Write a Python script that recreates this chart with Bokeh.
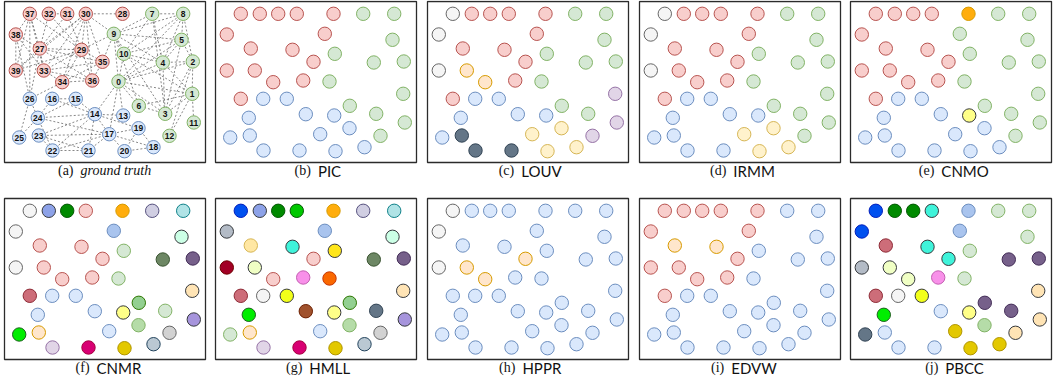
from bokeh.plotting import figure
from bokeh.models import Range1d
from bokeh.core.properties import value
from bokeh.embed import file_html
from bokeh.resources import INLINE

# ---------------- data ----------------
node_ids = list(range(40))
# node positions inside a panel (px from panel's top-left corner)
node_x = [114.0, 187.7, 188.3, 160.7, 158.3, 177.0, 134.3, 147.7, 178.7, 109.3,
          119.3, 189.3, 165.0, 118.7, 90.3, 71.3, 47.7, 104.7, 149.0, 134.0,
          120.0, 84.0, 48.0, 34.3, 33.3, 14.7, 25.3, 35.3, 118.0, 77.0,
          81.3, 62.7, 44.3, 39.3, 57.7, 98.0, 87.7, 25.3, 11.3, 11.3]
node_y = [80.0, 92.3, 60.0, 112.3, 61.0, 38.3, 104.3, 12.3, 12.3, 32.3,
          52.3, 121.0, 134.3, 114.0, 112.7, 97.3, 97.3, 132.7, 145.7, 126.7,
          149.7, 149.0, 149.0, 134.0, 116.3, 136.0, 97.3, 47.0, 12.3, 48.3,
          12.3, 12.3, 12.3, 69.0, 80.7, 60.3, 79.0, 12.3, 33.0, 69.0]

edges = [(37, 38), (37, 39), (37, 26), (37, 27), (37, 29), (37, 33), (32, 31), (32, 27), (32, 29),
         (31, 27), (31, 29), (30, 28), (30, 27), (30, 29), (30, 33), (30, 34), (30, 35), (30, 36),
         (30, 39), (30, 9), (38, 39), (38, 26), (38, 27), (38, 33), (27, 29), (27, 33), (27, 35),
         (27, 36), (27, 39), (27, 26), (29, 33), (29, 34), (29, 35), (29, 36), (29, 9), (29, 39),
         (33, 34), (33, 36), (33, 35), (34, 36), (35, 36), (26, 35),
         (26, 24), (26, 25), (16, 15), (16, 24), (15, 14), (16, 14), (24, 14), (24, 17), (24, 25),
         (24, 22), (24, 15), (23, 17), (23, 22), (23, 21), (23, 14), (22, 21), (22, 17), (22, 14),
         (21, 17), (21, 14), (14, 13), (14, 17), (17, 19), (17, 20), (17, 18), (19, 18), (19, 20),
         (20, 18), (14, 19),
         (7, 8), (7, 9), (7, 10), (7, 4), (7, 3), (8, 9), (8, 5), (8, 10), (8, 4), (8, 0), (8, 2),
         (9, 10), (9, 5), (9, 4), (9, 0), (9, 6), (9, 3), (10, 4), (10, 0), (10, 5), (10, 1),
         (5, 4), (5, 0), (5, 2), (5, 3), (4, 0), (4, 2), (4, 1), (4, 3), (2, 0), (2, 1), (2, 3),
         (0, 1), (0, 6), (0, 3), (0, 13), (1, 3), (1, 6), (1, 11), (1, 12), (3, 6), (2, 12),
         (0, 14), (0, 17), (9, 35)]

panel_tags = ["(a)", "(b)", "(c)", "(d)", "(e)", "(f)", "(g)", "(h)", "(i)", "(j)"]
panel_names = ["ground truth", "PIC", "LOUV", "IRMM", "CNMO", "CNMR", "HMLL", "HPPR", "EDVW", "PBCC"]

# community style of every node (node 0..39) per method
truth = ["green"] * 13 + ["blue"] * 14 + ["red"] * 13
pic = ["green"] * 9 + ["red"] + ["green"] * 3 + ["blue"] * 13 + ["red"] * 14
louv = ["green", "purple", "green", "green", "green", "green", "green", "green", "green", "red",
        "green", "purple", "purple", "blue", "blue", "blue", "blue", "yellow", "yellow", "yellow",
        "yellow", "slate", "slate", "slate", "blue", "blue", "red", "red", "red", "red",
        "red", "red", "red", "orange", "orange", "red", "red", "gray", "gray", "gray"]
irmm = ["green"] * 9 + ["red"] + ["green"] * 3 + ["blue"] * 4 + ["yellow"] * 4 + ["blue"] * 5 + \
       ["red"] * 11 + ["gray"] * 3
cnmo = ["green"] * 13 + ["yellow_b"] + ["blue"] * 12 + ["red", "red", "orange_g"] + ["red"] * 11
cnmr = ["green", "lorange_d", "dkpurple", "green", "olive", "mint", "greenmed", "lavender", "cyan_l", "blue_g",
        "green", "lilac", "graygrad", "yellow_b", "blue", "blue", "blue", "blue", "bluegray", "greengrad",
        "gold", "magenta", "purple", "orange", "blue", "lime", "rose", "red", "orange_g", "red",
        "red", "dkgreen", "periwinkle", "red", "red", "red", "red", "gray", "gray", "gray"]
hmll = ["orangered", "lorange_d", "dkpurple", "slate", "olive", "mint", "greenmed", "lavender", "cyan_l", "blue_g",
        "gold_y", "lilac", "graygrad", "yellow_b", "brown", "yellow_br", "gray", "blue", "bluegray", "greengrad",
        "gold", "magenta", "purple", "orange", "lime", "green", "rose", "yellowgrad", "orange_g", "aqua",
        "brgreen", "dkgreen", "periwinkle", "pale_lime", "red", "red", "pinkmag", "royal", "graybl", "darkred"]
hppr = ["blue"] * 33 + ["orange"] * 3 + ["blue"] + ["gray"] * 3
edvw = ["blue"] * 9 + ["red"] + ["blue"] * 16 + ["red", "orange", "red", "orange"] + ["red"] * 10
pbcc = ["green", "lorange_d", "dkpurple", "dkpurple", "dkpurple", "green", "dkpurple", "green", "green", "blue_g",
        "green", "lorange_d", "lorange_d", "yellow_b", "blue", "yellow_br", "gray", "gold", "gold", "greengrad",
        "gold", "blue", "blue", "blue", "lime", "slate", "rose", "rose", "blue_g", "aqua",
        "aqua", "dkgreen", "dkgreen", "pale_lime", "pale_lime", "aqua", "pinkmag", "royal", "royal", "graybl"]
assignments = [truth, pic, louv, irmm, cnmo, cnmr, hmll, hppr, edvw, pbcc]

# ---------------- styles ----------------
STYLE = {
    "red": ("#f8cecc", "#b85450"), "green": ("#d5e8d4", "#82b366"), "blue": ("#dae8fc", "#6c8ebf"),
    "gray": ("#f5f5f5", "#666666"), "orange": ("#ffe6cc", "#d79b00"), "yellow": ("#fff2cc", "#d6b656"),
    "purple": ("#e1d5e7", "#9673a6"), "slate": ("#647687", "#314354"),
    "orange_g": ("#ffad0d", "#d79b00"), "yellow_b": ("#ffff88", "#36393d"),
    "blue_g": ("#a9c4ee", "#6c8ebf"), "periwinkle": ("#8da2e8", "#36393d"),
    "dkgreen": ("#008a00", "#005700"), "lavender": ("#d0cee2", "#56517e"),
    "cyan_l": ("#b0e3e6", "#0e8088"), "mint": ("#ccffe6", "#36393d"),
    "olive": ("#6d8764", "#3a5431"), "dkpurple": ("#76608a", "#432d57"),
    "rose": ("#cd6d79", "#8e2a36"), "lorange_d": ("#ffe4b5", "#36393d"),
    "greenmed": ("#93d091", "#2d7600"), "lilac": ("#a694dc", "#36393d"),
    "greengrad": ("#b5dca8", "#82b366"), "lime": ("#00ee00", "#1f5f1f"),
    "graygrad": ("#d2d2d2", "#666666"), "magenta": ("#d80073", "#a50040"),
    "gold": ("#e3c800", "#b09500"), "bluegray": ("#bac8d3", "#23445d"),
    "royal": ("#0050ef", "#001dbc"), "brgreen": ("#00c800", "#005700"),
    "graybl": ("#b3bbc6", "#36393d"), "yellowgrad": ("#ffe7a3", "#d6b656"),
    "aqua": ("#3ff3da", "#36393d"), "gold_y": ("#ffe61a", "#36393d"),
    "darkred": ("#a20025", "#6f0000"), "pale_lime": ("#f0ffc4", "#36393d"),
    "pinkmag": ("#f890e9", "#c35fb2"), "orangered": ("#fa6800", "#c73500"),
    "yellow_br": ("#f2ff1a", "#36393d"), "brown": ("#a0522d", "#6d1f00"),
}

W, H = 1058, 382
PANEL_LEFT = [4, 215, 427, 639, 850]
PANEL_TOP = [1, 198]
PW, PH = 201, 161
CAP_DY = 169
NODE_SIZE = 13.4

p = figure(width=W, height=H, x_range=Range1d(0, W), y_range=Range1d(H, 0),
           output_backend="svg", toolbar_location=None, min_border=0)
p.axis.visible = False
p.grid.visible = False
p.outline_line_color = None
p.background_fill_color = "white"
p.border_fill_color = "white"

CW = {"P": .58, "I": .28, "C": .66, "L": .52, "O": .78, "U": .72, "V": .66, "R": .62, "M": .88,
      "N": .74, "H": .74, "E": .56, "D": .74, "W": .98, "B": .63, " ": .26}


def est_width(s, fs, italic=False):
    if italic:
        return sum(0.45 for c in s) * fs
    return sum(CW.get(c, .55) for c in s) * fs


for k in range(10):
    left = PANEL_LEFT[k % 5]
    top = PANEL_TOP[k // 5]
    p.quad(left=[left], right=[left + PW], top=[top], bottom=[top + PH],
           fill_color=None, line_color="#2b2b2b", line_width=1.3)
    xs = [left + v for v in node_x]
    ys = [top + v for v in node_y]
    if k == 0:
        ex = [[xs[a], xs[b]] for a, b in edges]
        ey = [[ys[a], ys[b]] for a, b in edges]
        p.multi_line(ex, ey, line_color="#555555", line_width=0.7, line_dash="2 2")
    fills = [STYLE[s][0] for s in assignments[k]]
    lines = [STYLE[s][1] for s in assignments[k]]
    p.scatter(xs, ys, size=NODE_SIZE, fill_color=fills, line_color=lines, line_width=1)
    if k == 0:
        p.text(xs, ys, text=[str(i) for i in node_ids], text_align="center", text_baseline="middle",
               text_font=value("Liberation Sans"), text_font_style="bold", text_font_size="8.5px",
               text_color="#111111")
    # caption
    cx = left + PW / 2
    cy = top + CAP_DY
    tag_fs = 14
    name_fs = 15 if k else 14
    wt = est_width(panel_tags[k], tag_fs) * 0.85
    wn = est_width(panel_names[k], name_fs, italic=(k == 0))
    gap = 7
    start = cx - (wt + gap + wn) / 2
    p.text([start + wt], [cy], text=[panel_tags[k]], text_align="right", text_baseline="middle",
           text_font=value("Liberation Serif"), text_font_size=f"{tag_fs}px", text_color="#111111")
    if k == 0:
        p.text([start + wt + gap], [cy], text=[panel_names[k]], text_align="left", text_baseline="middle",
               text_font=value("Liberation Serif"), text_font_style="italic",
               text_font_size=f"{name_fs}px", text_color="#111111")
    else:
        p.text([start + wt + gap], [cy], text=[panel_names[k]], text_align="left", text_baseline="middle",
               text_font=value("Lato"), text_font_size=f"{name_fs}px", text_color="#111111")

html = file_html(p, INLINE)
html = html.replace("<body>", '<body style="margin:0">', 1)
open("out.html", "w").write(html)
